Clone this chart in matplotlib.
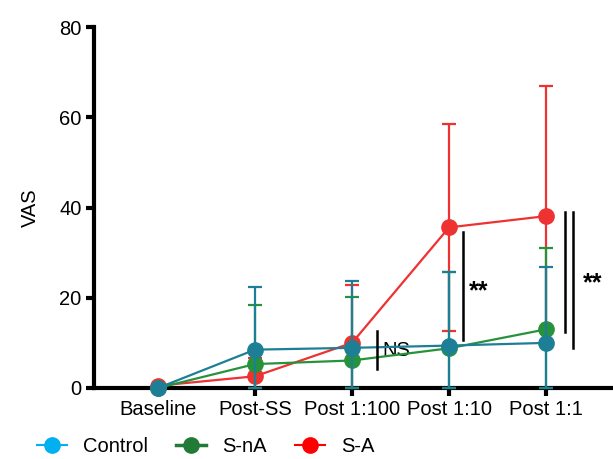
import numpy as np
import matplotlib
matplotlib.use("Agg")
import matplotlib.pyplot as plt
from matplotlib.lines import Line2D

plt.rcParams['font.family'] = ['Liberation Sans Narrow', 'Liberation Sans', 'DejaVu Sans']
plt.rcParams['font.stretch'] = 'condensed'

# Data
timepoints = ["Baseline", "Post-SS", "Post 1:100", "Post 1:10", "Post 1:1"]
control_mean = [0.0, 8.5, 8.9, 9.4, 10.0]
control_sd = [0.0, 13.9, 14.9, 16.4, 16.9]
snA_mean = [0.0, 5.3, 6.1, 8.8, 13.0]
snA_sd = [0.0, 13.1, 14.0, 17.0, 18.0]
sA_mean = [0.5, 2.6, 10.0, 35.6, 38.1]
sA_sd = [0.0, 4.0, 12.8, 23.0, 28.9]

x = np.arange(len(timepoints))

fig = plt.figure(figsize=(6.13, 4.59), dpi=100)
ax = fig.add_axes([0.1533, 0.1547, 0.8467, 0.7863])

def plot_series(mean, sd, color, z):
    mean = np.array(mean)
    sd = np.array(sd)
    lower = np.minimum(sd, mean)
    ax.errorbar(x, mean, yerr=[lower, sd], color=color, lw=1.6, elinewidth=1.6,
                capsize=5, capthick=1.6, marker='o', markersize=11, zorder=z,
                clip_on=False)

plot_series(sA_mean, sA_sd, '#ee3232', 3)
plot_series(snA_mean, snA_sd, '#27923c', 4)
plot_series(control_mean, control_sd, '#1d7f96', 5)

# significance bars
ax.plot([2.26, 2.26], [4.2, 12.7], color='black', lw=1.8, zorder=6)
ax.text(2.31, 8.2, "NS", fontsize=14.5, va='center', ha='left')
ax.plot([3.14, 3.14], [10.6, 34.6], color='black', lw=1.8, zorder=6)
ax.text(3.2, 21.5, "**", fontsize=18, fontweight='bold', va='center', ha='left')
ax.plot([4.2, 4.2], [12.4, 39.0], color='black', lw=1.8, zorder=6)
ax.plot([4.28, 4.28], [8.9, 39.0], color='black', lw=1.8, zorder=6)
ax.text(4.38, 23.3, "**", fontsize=18, fontweight='bold', va='center', ha='left')

ax.set_xlim(-0.66, 4.69)
ax.set_ylim(0, 80)
ax.set_yticks([0, 20, 40, 60, 80])
ax.set_xticks(x)
ax.set_xticklabels(timepoints)
ax.set_ylabel("VAS", fontsize=14.5, labelpad=14)

for s in ['top', 'right']:
    ax.spines[s].set_visible(False)
for s in ['left', 'bottom']:
    ax.spines[s].set_linewidth(3)
ax.tick_params(axis='both', width=3, length=6, labelsize=14.5, pad=3)

handles = [
    Line2D([], [], color='#00b0f0', marker='o', markersize=11, lw=1.5, label='Control'),
    Line2D([], [], color='#217a35', marker='o', markersize=11, lw=2.5, label='S-nA'),
    Line2D([], [], color='#ff0000', marker='o', markersize=11, lw=1.5, label='S-A'),
]
fig.legend(handles=handles, loc='center left', bbox_to_anchor=(0.03, 0.028), ncol=3,
           frameon=False, fontsize=14.5, handlelength=1.5, handletextpad=0.8,
           columnspacing=1.4)

fig.savefig("out.png", dpi=100)
